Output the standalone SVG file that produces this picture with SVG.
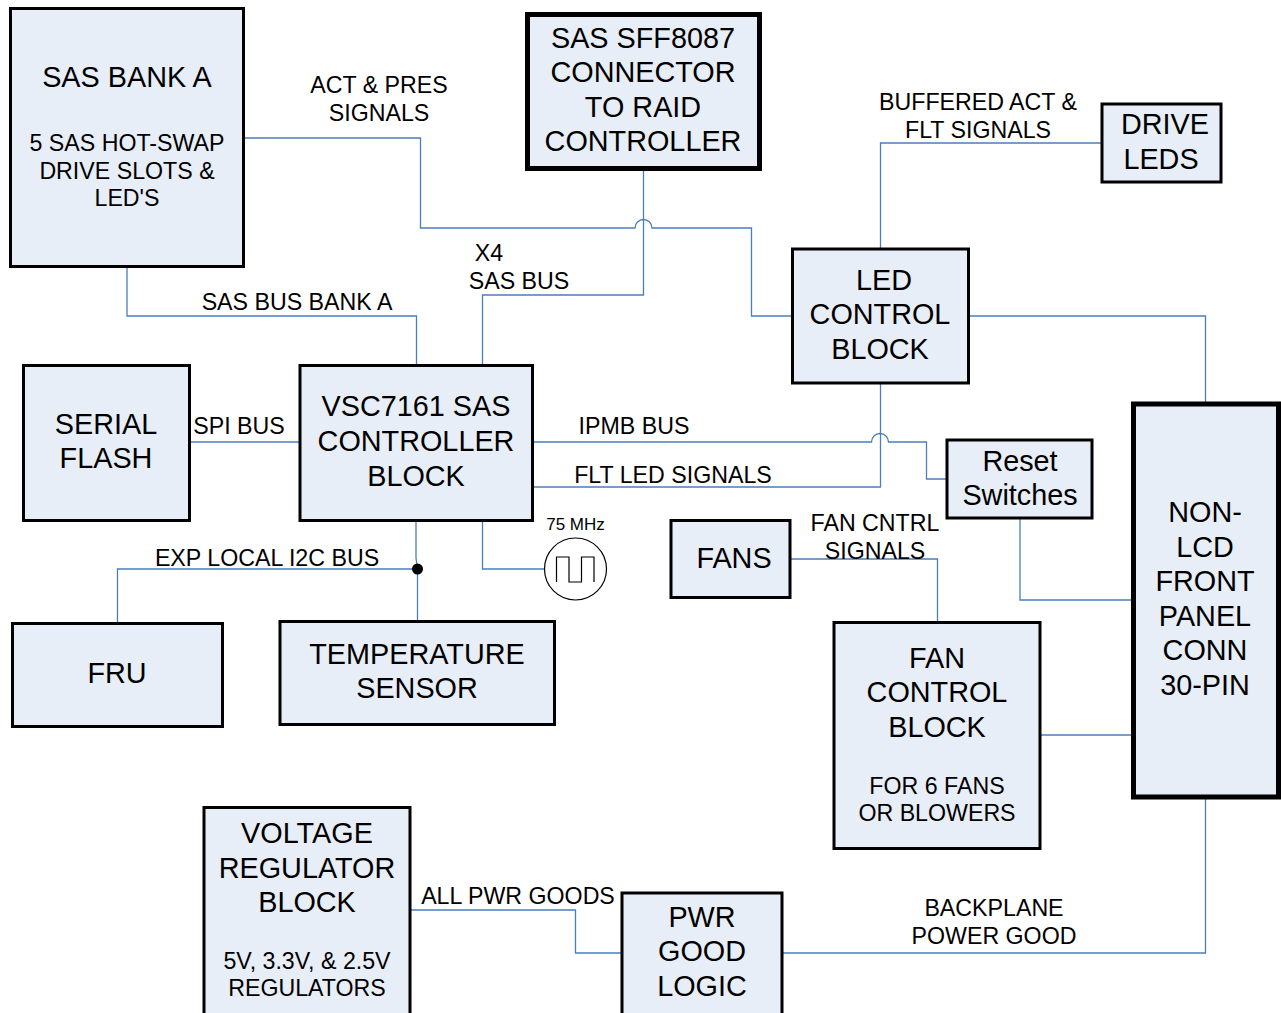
<svg xmlns="http://www.w3.org/2000/svg" width="1281" height="1013" viewBox="0 0 1281 1013">
<style>
.b{fill:#e8eef7;stroke:#000;stroke-width:3}
.c{fill:none;stroke:#4a7ebb;stroke-width:1.3}
text{font-family:"Liberation Sans",Arial,sans-serif;fill:#000;text-anchor:middle}
.l{font-size:28.8px}
.m{font-size:23.2px}
</style>
<rect width="1281" height="1013" fill="#fff"/>
<g id="connectors">
<path class="c" d="M244 138H420.500V228H635A8.500 8.500 0 0 1 652 228H751.500V316H792"/>
<path class="c" d="M643.500 170V295H482.500V365"/>
<path class="c" d="M127 267V316H416.500V365"/>
<path class="c" d="M190 442H300"/>
<path class="c" d="M533 442H871.500A8.500 8.500 0 0 1 888.500 442H926.500V479H947"/>
<path class="c" d="M533 487H880.500V384"/>
<path class="c" d="M880.500 248V143H1102"/>
<path class="c" d="M969 316H1205.500V403"/>
<path class="c" d="M416 521V558L417.500 569V621"/>
<path class="c" d="M417 569H117.500V623"/>
<path class="c" d="M482.500 521V569H545"/>
<path class="c" d="M791 559H937.500V622"/>
<path class="c" d="M1020 518V600H1132"/>
<path class="c" d="M1041 735H1132"/>
<path class="c" d="M411 910H575.500V953H622"/>
<path class="c" d="M783 953H1205.500V798"/>
<circle cx="417.500" cy="569" r="5.500" fill="#000"/>
</g>
<g id="bank-a"><rect class="b" x="10.500" y="8.500" width="233" height="258"/><text class="l" x="127" y="87">SAS BANK A</text><text class="m" x="127" y="151">5 SAS HOT-SWAP</text><text class="m" x="127" y="179">DRIVE SLOTS &amp;</text><text class="m" x="127" y="206">LED'S</text></g>
<g id="sff8087"><rect x="527.500" y="14.500" width="232" height="154" fill="#e8eef7" stroke="#000" stroke-width="5"/><text class="l" x="643" y="48">SAS SFF8087</text><text class="l" x="643" y="82">CONNECTOR</text><text class="l" x="643" y="117">TO RAID</text><text class="l" x="643" y="151">CONTROLLER</text></g>
<g id="drive-leds"><rect class="b" x="1102" y="104" width="119" height="78"/><text class="l" x="1165" y="134">DRIVE</text><text class="l" x="1161" y="169">LEDS</text></g>
<g id="led-control"><rect class="b" x="792.500" y="249" width="176" height="134"/><text class="l" x="884" y="290">LED</text><text class="l" x="880" y="324">CONTROL</text><text class="l" x="880" y="359">BLOCK</text></g>
<g id="serial-flash"><rect class="b" x="23.500" y="365.500" width="166" height="155"/><text class="l" x="106" y="434">SERIAL</text><text class="l" x="106" y="468">FLASH</text></g>
<g id="vsc7161"><rect class="b" x="300" y="365.500" width="232.500" height="155"/><text class="l" x="416" y="416">VSC7161 SAS</text><text class="l" x="416" y="451">CONTROLLER</text><text class="l" x="416" y="486">BLOCK</text></g>
<g id="reset"><rect class="b" x="947" y="440" width="145" height="78"/><text class="l" x="1020" y="471">Reset</text><text class="l" x="1020" y="505">Switches</text></g>
<g id="fans"><rect class="b" x="671" y="520.500" width="119" height="77"/><text class="l" x="734" y="568">FANS</text></g>
<g id="front-panel"><rect x="1133.500" y="404" width="145" height="393" fill="#e8eef7" stroke="#000" stroke-width="5"/><text class="l" x="1205" y="522">NON-</text><text class="l" x="1205" y="557">LCD</text><text class="l" x="1205" y="591">FRONT</text><text class="l" x="1205" y="626">PANEL</text><text class="l" x="1205" y="660">CONN</text><text class="l" x="1205" y="695">30-PIN</text></g>
<g id="fru"><rect class="b" x="12.500" y="623.500" width="210" height="103"/><text class="l" x="117" y="683">FRU</text></g>
<g id="temp"><rect class="b" x="280" y="621.500" width="274.500" height="103"/><text class="l" x="417" y="664">TEMPERATURE</text><text class="l" x="417" y="698">SENSOR</text></g>
<g id="fan-control"><rect class="b" x="834" y="622.500" width="206" height="226"/><text class="l" x="937" y="668">FAN</text><text class="l" x="937" y="702">CONTROL</text><text class="l" x="937" y="737">BLOCK</text><text class="m" x="937" y="794">FOR 6 FANS</text><text class="m" x="937" y="821">OR BLOWERS</text></g>
<g id="voltage"><rect class="b" x="204" y="807.500" width="206" height="210"/><text class="l" x="307" y="843">VOLTAGE</text><text class="l" x="307" y="878">REGULATOR</text><text class="l" x="307" y="912">BLOCK</text><text class="m" x="307" y="969">5V, 3.3V, &amp; 2.5V</text><text class="m" x="307" y="996">REGULATORS</text></g>
<g id="pwr-good"><rect class="b" x="622" y="893" width="160" height="125"/><text class="l" x="702" y="927">PWR</text><text class="l" x="702" y="961">GOOD</text><text class="l" x="702" y="996">LOGIC</text></g>
<g id="clock"><circle cx="575.500" cy="569" r="31" fill="#fff" stroke="#000" stroke-width="1.2"/><path d="M556.500 582V557H569V582H581.500V557H594V582" fill="none" stroke="#000" stroke-width="1.2"/><text x="575.500" y="530" font-size="17">75 MHz</text></g>
<g id="labels">
<text class="m" x="379" y="93">ACT &amp; PRES</text><text class="m" x="379" y="121">SIGNALS</text>
<text class="m" x="978" y="110">BUFFERED ACT &amp;</text><text class="m" x="978" y="138">FLT SIGNALS</text>
<text class="m" x="489" y="261">X4</text><text class="m" x="519" y="289">SAS BUS</text>
<text class="m" x="297" y="310">SAS BUS BANK A</text>
<text class="m" x="239" y="434">SPI BUS</text>
<text class="m" x="634" y="434">IPMB BUS</text>
<text class="m" x="673" y="483">FLT LED SIGNALS</text>
<text class="m" x="267" y="566">EXP LOCAL I2C BUS</text>
<text class="m" x="875" y="531">FAN CNTRL</text><text class="m" x="875" y="559">SIGNALS</text>
<text class="m" x="518" y="904">ALL PWR GOODS</text>
<text class="m" x="994" y="916">BACKPLANE</text><text class="m" x="994" y="944">POWER GOOD</text>
</g>
</svg>
